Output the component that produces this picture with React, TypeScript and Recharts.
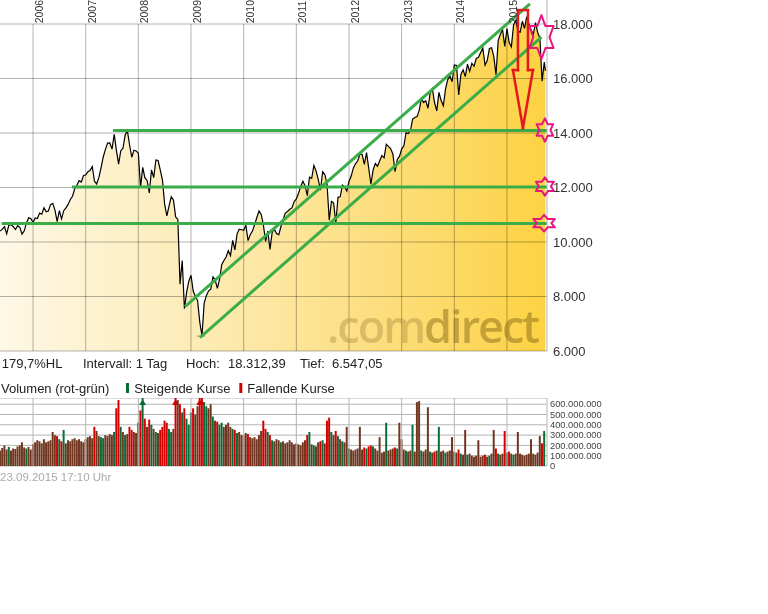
import React from "react";
import {
  ComposedChart,
  Area,
  XAxis,
  YAxis,
  CartesianGrid,
  ReferenceLine,
  ReferenceDot,
  BarChart,
  Bar,
} from "recharts";

const FONT = "Arial, 'Liberation Sans', Helvetica, sans-serif";

// Dow Jones closes, two points a month (1st and 15th)
const firstHalfMonth2005 = 9; // series starts mid May 2005
const close2005 = [10400, 10470, 10560, 10300, 10620, 10640, 10560, 10460, 10600, 10540, 10290, 10410, 10690, 10890, 10860];
const close2006 = [10720, 10880, 10860, 11060, 11020, 11260, 11110, 11140, 11370, 11420, 11170, 10750, 11150, 10850, 11150, 11250, 11380, 11560, 11680, 11950, 12080, 12250, 12200, 12440];
const close2007 = [12460, 12580, 12620, 12770, 12230, 12130, 12360, 12720, 13120, 13400, 13630, 13640, 13410, 13950, 13360, 12860, 13350, 13440, 13930, 14090, 13560, 13110, 13370, 13340];
const close2008 = [13260, 12000, 12740, 12350, 12260, 11800, 12650, 12360, 13010, 12990, 12640, 12270, 11380, 10960, 11330, 11660, 11540, 10920, 10830, 8450, 9320, 7550, 8150, 8560];
const close2009 = [8780, 8200, 8000, 7850, 7060, 6550, 7760, 8030, 8210, 8270, 8720, 8610, 8300, 8620, 9170, 9320, 9450, 9680, 9500, 10060, 9710, 10300, 10470, 10450];
const close2010 = [10430, 10610, 10050, 10270, 10400, 10640, 10900, 11140, 11010, 10620, 10020, 10400, 9730, 10360, 10470, 10300, 10270, 10570, 10830, 11060, 11120, 11200, 11250, 11480];
const close2011 = [11580, 11790, 12040, 12230, 12060, 11700, 12380, 12340, 12810, 12600, 12290, 11900, 12580, 12480, 12130, 10800, 11490, 11430, 10700, 11640, 11660, 12090, 12020, 11870];
const close2012 = [12220, 12420, 12720, 12880, 12980, 13230, 13210, 12850, 13280, 12700, 12120, 12650, 12880, 12780, 12980, 13170, 13090, 13590, 13510, 13420, 13230, 12580, 13030, 13140];
const close2013 = [13410, 13530, 14010, 13980, 14090, 14510, 14570, 14600, 14830, 15270, 15120, 15180, 14910, 15470, 15630, 15110, 14810, 15490, 15190, 15000, 15620, 15960, 16090, 15880];
const close2014 = [16500, 16480, 15400, 16150, 16320, 16070, 16530, 16260, 16560, 16450, 16740, 16780, 16950, 17120, 16490, 16660, 17100, 17130, 16800, 16140, 17390, 17630, 17780, 17180];
const close2015 = [17830, 17320, 17160, 17970, 18130, 17750, 17700, 18100, 17840, 18270, 18010, 17790, 17620, 18050, 17690, 17480, 15900, 16600];
const lastDate = 2015.73; // 23.09.2015
const lastClose = 16280;
const periodLow = { date: 2009.19, value: 6547 };

// volume in millions, same half-month steps
const vol2005 = [150, 175, 200, 160, 185, 150, 170, 165, 190, 200, 230, 180, 170, 185, 160];
const vol2006 = [210, 230, 250, 240, 220, 260, 230, 240, 250, 330, 300, 290, 260, 240, 350, 220, 250, 240, 260, 270, 250, 260, 240, 230];
const vol2007 = [260, 280, 290, 270, 380, 340, 290, 280, 270, 300, 290, 310, 300, 330, 560, 640, 380, 330, 300, 310, 380, 350, 330, 320];
const vol2008 = [420, 540, 720, 460, 380, 450, 400, 360, 330, 320, 350, 380, 440, 420, 360, 330, 360, 760, 640, 600, 520, 560, 460, 400];
const vol2009 = [520, 560, 500, 580, 720, 700, 620, 580, 560, 600, 480, 440, 430, 400, 420, 380, 400, 420, 380, 360, 350, 320, 330, 300];
const vol2010 = [300, 320, 310, 280, 270, 280, 260, 300, 340, 440, 360, 330, 300, 250, 240, 260, 250, 230, 240, 220, 230, 250, 230, 210];
const vol2011 = [220, 210, 200, 230, 250, 300, 330, 210, 200, 190, 230, 240, 250, 220, 440, 470, 330, 300, 340, 290, 260, 240, 230, 380];
const vol2012 = [170, 160, 150, 160, 170, 380, 160, 180, 170, 190, 200, 190, 170, 150, 280, 130, 140, 420, 150, 160, 170, 180, 170, 420];
const vol2013 = [260, 160, 150, 140, 150, 400, 140, 620, 630, 150, 140, 160, 570, 140, 130, 140, 150, 380, 140, 150, 130, 140, 150, 280];
const vol2014 = [140, 130, 160, 120, 110, 350, 110, 120, 100, 90, 100, 250, 90, 100, 110, 90, 100, 120, 350, 170, 120, 110, 120, 340];
const vol2015 = [130, 140, 120, 110, 120, 330, 120, 110, 100, 110, 120, 260, 120, 110, 130, 290, 220, 340];

const years = [2006, 2007, 2008, 2009, 2010, 2011, 2012, 2013, 2014, 2015];
const priceTicks = [6000, 8000, 10000, 12000, 14000, 16000, 18000];
const volTicks = [0, 100, 200, 300, 400, 500, 600];

// annotations drawn by hand on the original
const supportLines = [
  { from: 2007.52, level: 14090 },
  { from: 2006.74, level: 12020 },
  { from: 2005.405, level: 10680 },
];
const channelLines = [
  [{ x: 2008.886, y: 7630 }, { x: 2015.436, y: 18740 }],
  [{ x: 2009.17, y: 6490 }, { x: 2015.655, y: 17520 }],
];
const arrowOutline = [
  { x: 2015.208, y: 18510 },
  { x: 2015.398, y: 18510 },
  { x: 2015.398, y: 16310 },
  { x: 2015.493, y: 16310 },
  { x: 2015.303, y: 14180 },
  { x: 2015.113, y: 16310 },
  { x: 2015.208, y: 16310 },
  { x: 2015.208, y: 18510 },
];
const stars = [
  { x: 2015.654, y: 17520, rx: 14, ry: 22 },
  { x: 2015.72, y: 14110, rx: 9.6, ry: 11.7 },
  { x: 2015.72, y: 12040, rx: 10.4, ry: 9.2 },
  { x: 2015.705, y: 10690, rx: 12.5, ry: 8.3 },
];

const xStart = 2005.373;
const xEnd = 2015.76;
const priceTop = 18881;
const volTop = 660;

const UP = "#0b6b38";
const DOWN = "#d40000";
const MIXED = "#70361f"; // half-months with both rising and falling days

const closeByYear: [number, number[], number[]][] = [
  [2005, close2005, vol2005],
  [2006, close2006, vol2006],
  [2007, close2007, vol2007],
  [2008, close2008, vol2008],
  [2009, close2009, vol2009],
  [2010, close2010, vol2010],
  [2011, close2011, vol2011],
  [2012, close2012, vol2012],
  [2013, close2013, vol2013],
  [2014, close2014, vol2014],
  [2015, close2015, vol2015],
];

type Row = { t: number; close: number; vol?: number; chg?: number };
const rows: Row[] = [];
closeByYear.forEach(([year, closes, vols]) => {
  const k0 = year === 2005 ? firstHalfMonth2005 : 0;
  closes.forEach((c, j) => rows.push({ t: year + (k0 + j) / 24, close: c, vol: vols[j] }));
});
rows.push({ t: lastDate, close: lastClose });
rows.forEach((r, i) => {
  r.chg = i === 0 ? 0 : r.close / rows[i - 1].close - 1;
});
const volRows = rows.filter((r) => r.vol !== undefined);

const dots = (n: number) => String(Math.round(n)).replace(/\B(?=(\d{3})+(?!\d))/g, ".");

const renderYearTick = (p: any) => {
  const x = p.x + 10;
  return (
    <text x={x} y={23.3} transform={`rotate(-90 ${x} 23.3)`} fontSize={10.5} fill="#333" fontFamily={FONT}>
      {p.payload.value}
    </text>
  );
};

const Hexagram = ({ cx, cy, rx, ry }: { cx: number; cy: number; rx: number; ry: number }) => {
  const pts: string[] = [];
  for (let k = 0; k < 12; k++) {
    const a = (Math.PI / 6) * k - Math.PI / 2;
    const r = k % 2 === 0 ? 1 : 1 / Math.sqrt(3);
    pts.push(`${cx + Math.cos(a) * r * rx},${cy + Math.sin(a) * r * ry}`);
  }
  return <polygon points={pts.join(" ")} fill="none" stroke="#e8177f" strokeWidth={2} strokeLinejoin="round" />;
};

const barColour = (chg: number) => (chg > 0.025 ? UP : chg < -0.025 ? DOWN : MIXED);

const renderVolBar = (p: any) => {
  const { x, y, width, height, payload } = p;
  if (x == null || payload == null) return <g />;
  const fill = barColour(payload.chg);
  const bottom = y + height;
  const top = Math.max(y, 0);
  const cx = x + width / 2;
  return (
    <g>
      <rect x={x} y={top} width={width} height={Math.max(bottom - top, 0)} fill={fill} />
      {payload.vol > volTop && (
        <polygon points={`${cx - 3.5},7 ${cx + 3.5},7 ${cx},1.5`} fill={fill} />
      )}
    </g>
  );
};

const css = `
.px .recharts-area-area { mix-blend-mode: multiply; }
.px .grid-mul line { mix-blend-mode: multiply; }
`;

export default function App() {
  return (
    <div style={{ position: "absolute", left: 0, top: 0, width: 768, height: 614, background: "#fff", fontFamily: FONT }}>
      <style>{css}</style>
      <div className="px" style={{ position: "absolute", left: 0, top: 0 }}>
        <ComposedChart width={620} height={360} data={rows} margin={{ top: 0, right: 0, bottom: 8, left: 0 }}>
          <defs>
            <linearGradient id="pxFill" x1="0" y1="0" x2="1" y2="0">
              <stop offset="0%" stopColor="#fef8e6" />
              <stop offset="25%" stopColor="#fdf0c6" />
              <stop offset="50%" stopColor="#fde6a0" />
              <stop offset="75%" stopColor="#fddc74" />
              <stop offset="100%" stopColor="#fdd242" />
            </linearGradient>
          </defs>
          {priceTicks.map((v) => (
            <ReferenceLine key={"h" + v} className="grid-mul" y={v} stroke="#b4b4b4" />
          ))}
          {years.map((yr) => (
            <ReferenceLine
              key={yr}
              className="grid-mul"
              segment={[{ x: yr, y: 6000 }, { x: yr, y: 18000 }]}
              stroke="#b4b4b4"
              ifOverflow="visible"
            />
          ))}
          <XAxis
            dataKey="t"
            type="number"
            domain={[xStart, xEnd]}
            allowDataOverflow
            ticks={years}
            interval={0}
            height={1}
            axisLine={false}
            tickLine={false}
            tick={renderYearTick}
          />
          <YAxis
            orientation="right"
            width={73}
            domain={[6000, priceTop]}
            allowDataOverflow
            ticks={priceTicks}
            interval={0}
            tickFormatter={dots}
            tick={{ fontSize: 13, fill: "#333", fontFamily: FONT }}
            axisLine={{ stroke: "#b4b4b4" }}
            tickLine={false}
            tickSize={4}
            tickMargin={2}
          />
          <Area
            type="linear"
            dataKey="close"
            stroke="#000"
            strokeWidth={1.2}
            fill="url(#pxFill)"
            fillOpacity={1}
            dot={false}
            activeDot={false}
            isAnimationActive={false}
          />
          <ReferenceLine
            segment={[
              { x: periodLow.date - 0.08, y: periodLow.value },
              { x: periodLow.date + 0.08, y: periodLow.value },
            ]}
            stroke="#999"
            ifOverflow="visible"
          />
          {supportLines.map((s) => (
            <ReferenceLine
              key={s.level}
              segment={[{ x: s.from, y: s.level }, { x: xEnd, y: s.level }]}
              stroke="#3aac48"
              strokeWidth={3}
              ifOverflow="visible"
            />
          ))}
          {channelLines.map((seg, i) => (
            <ReferenceLine key={"c" + i} segment={seg} stroke="#3aac48" strokeWidth={3} ifOverflow="visible" />
          ))}
          {arrowOutline.slice(1).map((pt, i) => (
            <ReferenceLine
              key={"a" + i}
              segment={[arrowOutline[i], pt]}
              stroke="#e3191f"
              strokeWidth={2.5}
              strokeLinecap="square"
              ifOverflow="visible"
            />
          ))}
          {stars.map((s, i) => (
            <ReferenceDot
              key={"s" + i}
              x={s.x}
              y={s.y}
              r={1}
              ifOverflow="visible"
              shape={(p: any) => <Hexagram cx={p.cx} cy={p.cy} rx={s.rx} ry={s.ry} />}
            />
          ))}
        </ComposedChart>
      </div>

      <div style={{ position: "absolute", left: 0, top: 398 }}>
        <BarChart width={620} height={74} data={volRows} margin={{ top: 0, right: 0, bottom: 6, left: 0 }} barGap={0} barCategoryGap={0}>
          <CartesianGrid vertical={false} stroke="#b4b4b4" />
          {years.map((yr) => (
            <ReferenceLine key={yr} x={yr} stroke="#b4b4b4" />
          ))}
          <XAxis dataKey="t" type="number" domain={[xStart, xEnd]} allowDataOverflow hide />
          <YAxis
            orientation="right"
            width={73}
            domain={[0, volTop]}
            allowDataOverflow
            ticks={volTicks}
            interval={0}
            tickFormatter={(v: number) => (v === 0 ? "0" : dots(v * 1e6))}
            tick={{ fontSize: 9.3, fill: "#444", fontFamily: FONT }}
            axisLine={{ stroke: "#b4b4b4" }}
            tickLine={false}
            tickSize={3}
            tickMargin={0}
          />
          <Bar dataKey="vol" barSize={2.3} isAnimationActive={false} shape={renderVolBar} />
        </BarChart>
      </div>

      <svg width={768} height={614} style={{ position: "absolute", left: 0, top: 0, pointerEvents: "none" }} fontFamily={FONT}>
        <text x={327} y={343} fontFamily="'Open Sans', sans-serif" fontSize={45} fontWeight={600} letterSpacing={-2}>
          <tspan fill="#a88c40" fillOpacity={0.42}>.com</tspan>
          <tspan fill="#8a6c18" fillOpacity={0.5}>direct</tspan>
        </text>
        <g fontSize={13} fill="#222">
          <text x={1.7} y={368}>179,7%HL</text>
          <text x={83} y={368}>Intervall: 1 Tag</text>
          <text x={186} y={368}>Hoch:</text>
          <text x={228} y={368}>18.312,39</text>
          <text x={300} y={368}>Tief:</text>
          <text x={332} y={368}>6.547,05</text>
          <text x={1} y={393}>Volumen (rot-grün)</text>
          <rect x={126} y={383} width={3} height={10} fill={UP} />
          <text x={134.3} y={393}>Steigende Kurse</text>
          <rect x={239.3} y={383} width={3} height={10} fill={DOWN} />
          <text x={247.3} y={393}>Fallende Kurse</text>
        </g>
        <text x={0} y={481} fontSize={11.5} fill="#aaa">23.09.2015 17:10 Uhr</text>
      </svg>
    </div>
  );
}
